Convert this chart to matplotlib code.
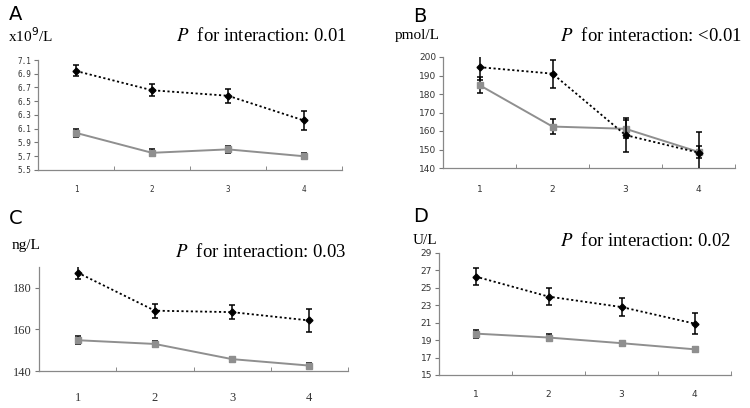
import matplotlib
matplotlib.use("Agg")
import matplotlib.pyplot as plt
import numpy as np

groups = [1, 2, 3, 4]

# Panel A
a_dash = [6.94, 6.66, 6.58, 6.22]
a_dash_err = [0.08, 0.09, 0.10, 0.14]
a_gray = [6.04, 5.75, 5.80, 5.70]
a_gray_err = [0.06, 0.05, 0.05, 0.04]
a_yticks = [5.5, 5.7, 5.9, 6.1, 6.3, 6.5, 6.7, 6.9, 7.1]

# Panel B
b_dash = [194.5, 191.0, 157.8, 148.3]
b_dash_err = [7.0, 7.5, 9.0, 11.0]
b_gray = [184.8, 162.4, 161.2, 148.7]
b_gray_err = [4.5, 4.2, 5.0, 3.4]
b_yticks = [140, 150, 160, 170, 180, 190, 200]

# Panel C
c_dash = [187.3, 169.0, 168.3, 164.3]
c_dash_err = [3.3, 3.3, 3.5, 5.5]
c_gray = [154.8, 153.0, 145.7, 142.6]
c_gray_err = [2.0, 1.6, 1.2, 1.3]
c_yticks = [140, 160, 180]

# Panel D
d_dash = [26.3, 24.0, 22.8, 20.9]
d_dash_err = [1.0, 0.95, 1.05, 1.25]
d_gray = [19.75, 19.3, 18.65, 17.95]
d_gray_err = [0.45, 0.4, 0.3, 0.3]
d_yticks = [15, 17, 19, 21, 23, 25, 27, 29]

W, H = 750, 408
fig = plt.figure(figsize=(7.5, 4.08), dpi=100)

def px_axes(x0, x1, ytop, ybot):
    return fig.add_axes([x0 / W, (H - ybot) / H, (x1 - x0) / W, (ybot - ytop) / H])

GRAY = "#8f8f8f"
SERIF = ["Liberation Serif", "DejaVu Serif"]

def draw(ax, dash, dash_err, gray, gray_err, yticks, ylim, ylabels, tickfont, tickfs, xpad):
    x = np.arange(len(groups)) + 0.5
    ax.errorbar(x, gray, yerr=gray_err, color=GRAY, lw=1.4, marker="s", ms=5,
                mfc=GRAY, mec=GRAY, ecolor="black", elinewidth=1.1, capsize=2.5,
                capthick=1.1, zorder=3)
    ax.errorbar(x, dash, yerr=dash_err, color="black", lw=1.3, ls=(0, (1.2, 1.4)),
                marker="D", ms=3.5, mfc="black", mec="black", ecolor="black",
                elinewidth=1.1, capsize=2.5, capthick=1.1, zorder=4)
    ax.set_xlim(0, len(groups))
    ax.set_ylim(*ylim)
    ax.set_xticks(x)
    ax.set_xticklabels([str(g) for g in groups], family=tickfont, fontsize=tickfs, color="#333333")
    ax.set_xticks(np.arange(1, len(groups) + 1), minor=True)
    ax.tick_params(axis="x", which="major", length=0, pad=xpad)
    ax.tick_params(axis="x", which="minor", direction="in", length=3, color="#777777")
    ax.set_yticks(yticks)
    ax.set_yticklabels(ylabels, family=tickfont, fontsize=tickfs, color="#333333")
    ax.tick_params(axis="y", direction="out", length=3, color="#777777", pad=2)
    for s in ["top", "right"]:
        ax.spines[s].set_visible(False)
    for s in ["left", "bottom"]:
        ax.spines[s].set_color("#888888")
        ax.spines[s].set_linewidth(0.9)
    ax.patch.set_alpha(0)

axA = px_axes(38, 342, 60, 170)
draw(axA, a_dash, a_dash_err, a_gray, a_gray_err, a_yticks, (5.5, 7.1),
     [f"{v:.1f}" for v in a_yticks], "DejaVu Sans Mono", 5.5, 11)

axB = px_axes(443, 735, 57, 168)
draw(axB, b_dash, b_dash_err, b_gray, b_gray_err, b_yticks, (140, 200),
     [str(v) for v in b_yticks], "DejaVu Sans", 6.5, 12)

axC = px_axes(39, 348, 267, 371)
draw(axC, c_dash, c_dash_err, c_gray, c_gray_err, c_yticks, (140, 190),
     [str(v) for v in c_yticks], SERIF, 9, 15)

axD = px_axes(439, 731, 253, 375)
draw(axD, d_dash, d_dash_err, d_gray, d_gray_err, d_yticks, (15, 29),
     [str(v) for v in d_yticks], "DejaVu Sans", 6.5, 11)

def ftext(x, y, s, **kw):
    fig.text(x / W, 1 - y / H, s, **kw)

letter_kw = dict(family="DejaVu Sans", fontsize=14, va="center", ha="left")
ftext(9, 15, "A", **letter_kw)
ftext(413, 16, "B", **letter_kw)
ftext(9, 219, "C", **letter_kw)
ftext(413, 217, "D", **letter_kw)

unit_kw = dict(family=SERIF, fontsize=11, va="center", ha="left")
ftext(8, 36, r"x10$^{9}$/L", **unit_kw)
ftext(395, 36, "pmol/L", **unit_kw)
ftext(12, 246, "ng/L", **unit_kw)
ftext(413, 241, "U/L", **unit_kw)

def ptext(xr, y, val):
    fig.text(xr / W, 1 - y / H, r"$\it{P}$" + "  for interaction: " + val,
             family=SERIF, fontsize=13.5, va="center", ha="right",
             math_fontfamily="stix")

ptext(347, 36, "0.01")
ptext(742, 36, "<0.01")
ptext(347, 252, "0.03")
ptext(731, 241, "0.02")

fig.savefig("out.png", dpi=100)
